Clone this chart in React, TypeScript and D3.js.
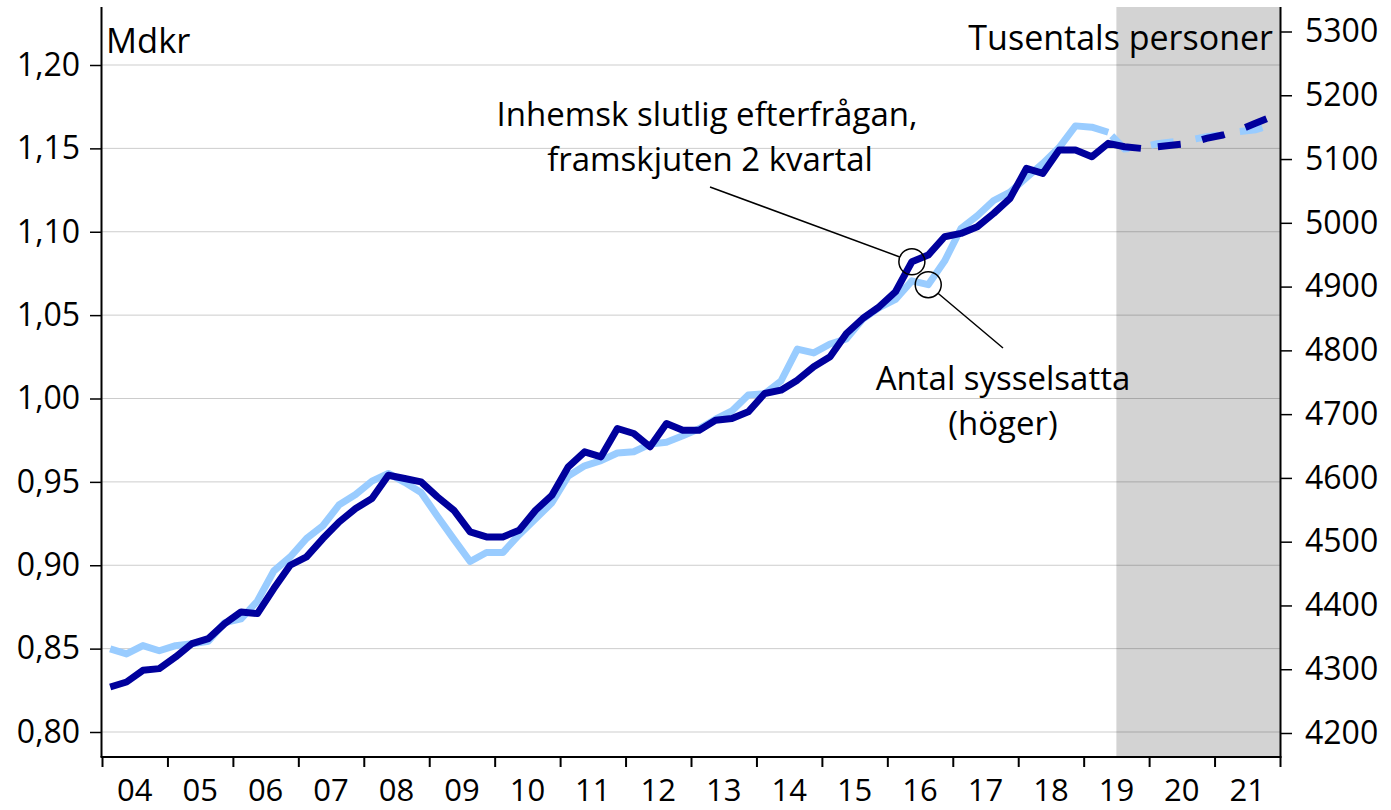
import React, { useEffect, useRef } from "react";
import * as d3 from "d3";

// years on the x axis, one label per year
const years = [
  2004, 2005, 2006, 2007, 2008, 2009, 2010, 2011, 2012, 2013, 2014, 2015,
  2016, 2017, 2018, 2019, 2020, 2021,
];
const yearLabels = [
  "04", "05", "06", "07", "08", "09", "10", "11", "12", "13", "14", "15",
  "16", "17", "18", "19", "20", "21",
];

// Inhemsk slutlig efterfrågan, framskjuten 2 kvartal (Mdkr, vänster), 2004Q1-2021Q4
const demand = [
  0.827, 0.83, 0.837, 0.838, 0.845, 0.853, 0.856, 0.865,
  0.872, 0.871, 0.886, 0.9, 0.905, 0.916, 0.926, 0.934,
  0.94, 0.954, 0.952, 0.95, 0.941, 0.933, 0.92, 0.917,
  0.917, 0.921, 0.933, 0.942, 0.959, 0.968, 0.965, 0.982,
  0.979, 0.971, 0.985, 0.981, 0.981, 0.987, 0.988, 0.992,
  1.003, 1.005, 1.011, 1.019, 1.025, 1.039, 1.048, 1.055,
  1.064, 1.082, 1.086, 1.097, 1.099, 1.103, 1.111, 1.12,
  1.138, 1.135, 1.149, 1.149, 1.145, 1.153, 1.151, 1.15,
  1.151, 1.152, 1.153, 1.156, 1.158, 1.161, 1.165, 1.169,
];

// Antal sysselsatta (tusental, höger), 2004Q1-2021Q4
const employment = [
  4332, 4324, 4337, 4329, 4337, 4340, 4344, 4373,
  4379, 4407, 4454, 4476, 4505, 4525, 4558, 4574,
  4595, 4607, 4593, 4577, 4540, 4504, 4469, 4483,
  4483, 4511, 4536, 4561, 4603, 4619, 4627, 4639,
  4641, 4653, 4656, 4666, 4677, 4692, 4705, 4730,
  4732, 4752, 4802, 4796, 4810, 4818, 4849, 4867,
  4880, 4909, 4903, 4940, 4991, 5011, 5035, 5048,
  5071, 5093, 5118, 5152, 5150, 5142, 5116, 5118,
  5124, 5127, 5130, 5135, 5138, 5143, 5146, 5154,
];

// last quarter with outcome (index), after that prognosis (dashed)
const demandLastActual = 63;
const employmentLastActual = 61;
const forecastStart = 2019.5;

const leftTicks = [0.8, 0.85, 0.9, 0.95, 1.0, 1.05, 1.1, 1.15, 1.2];
const rightTicks = [4200, 4300, 4400, 4500, 4600, 4700, 4800, 4900, 5000, 5100, 5200, 5300];

const FONT = "'Open Sans', 'Noto Sans', sans-serif";
const DARK = "#00009c";
const LIGHT = "#99ccff";

const App = () => {
  const svgRef = useRef<SVGSVGElement | null>(null);

  useEffect(() => {
    const width = 1391;
    const height = 810;
    const left = 102;
    const right = 1280;
    const top = 7;
    const bottom = 757;

    const svg = d3.select(svgRef.current);
    svg.selectAll("*").remove();
    svg.attr("width", width).attr("height", height);

    const x = d3.scaleLinear().domain([years[0], years[years.length - 1] + 1]).range([left, right]);
    const yL = d3.scaleLinear().domain([0.8, 1.2]).range([732, 65]);
    const yR = d3.scaleLinear().domain([4200, 5300]).range([733, 31.5]);

    // quarter midpoints
    const quarters = years.flatMap((yr) => [1, 2, 3, 4].map((q) => yr + (q - 0.5) / 4));

    // forecast shading
    svg
      .append("rect")
      .attr("x", x(forecastStart))
      .attr("y", top)
      .attr("width", x(years[years.length - 1] + 1) - x(forecastStart))
      .attr("height", bottom - top)
      .attr("fill", "#d3d3d3");

    // gridlines from left axis
    svg
      .append("g")
      .selectAll("line")
      .data(leftTicks)
      .join("line")
      .attr("x1", left)
      .attr("x2", right)
      .attr("y1", (d) => yL(d))
      .attr("y2", (d) => yL(d))
      .attr("stroke", "#000")
      .attr("stroke-opacity", 0.2)
      .attr("stroke-width", 1);

    // lines
    const lineL = d3
      .line<number>()
      .x((_, i) => x(quarters[i]))
      .y((d) => yL(d));
    const lineR = d3
      .line<number>()
      .x((_, i) => x(quarters[i]))
      .y((d) => yR(d));

    const drawSeries = (
      vals: number[],
      lastActual: number,
      gen: d3.Line<number>,
      color: string,
      offset: number
    ) => {
      const solid = vals.map((v, i) => (i <= lastActual ? v : NaN));
      const dashed = vals.map((v, i) => (i >= lastActual ? v : NaN));
      gen.defined((d) => !isNaN(d));
      svg
        .append("path")
        .attr("d", gen(solid))
        .attr("fill", "none")
        .attr("stroke", color)
        .attr("stroke-width", 7)
        .attr("stroke-linejoin", "round");
      svg
        .append("path")
        .attr("d", gen(dashed))
        .attr("fill", "none")
        .attr("stroke", color)
        .attr("stroke-width", 7)
        .attr("stroke-dasharray", "23 22")
        .attr("stroke-dashoffset", offset);
    };

    drawSeries(employment, employmentLastActual, lineR, LIGHT, 40);
    drawSeries(demand, demandLastActual, lineL, DARK, 28);

    // axis lines
    svg
      .append("line")
      .attr("x1", left - 0.5)
      .attr("x2", left - 0.5)
      .attr("y1", top)
      .attr("y2", bottom)
      .attr("stroke", "#000")
      .attr("stroke-width", 2);
    svg
      .append("line")
      .attr("x1", right + 0.5)
      .attr("x2", right + 0.5)
      .attr("y1", top)
      .attr("y2", bottom)
      .attr("stroke", "#000")
      .attr("stroke-width", 2);
    svg
      .append("line")
      .attr("x1", left - 1.5)
      .attr("x2", right + 1.5)
      .attr("y1", bottom)
      .attr("y2", bottom)
      .attr("stroke", "#000")
      .attr("stroke-width", 2);

    // left axis
    const gL = svg
      .append("g")
      .attr("transform", `translate(${left - 1},0)`)
      .call(
        d3
          .axisLeft(yL)
          .tickValues(leftTicks)
          .tickSize(11)
          .tickPadding(10)
          .tickFormat((d) => (d as number).toFixed(2).replace(".", ","))
      );
    gL.select(".domain").remove();
    gL.selectAll("line").attr("stroke", "#000").attr("stroke-width", 1.5);
    gL.selectAll("text").attr("font-family", FONT).attr("font-size", 32).attr("fill", "#000");

    // right axis
    const gR = svg
      .append("g")
      .attr("transform", `translate(${right + 1},0)`)
      .call(d3.axisRight(yR).tickValues(rightTicks).tickSize(11).tickPadding(13).tickFormat(d3.format("d")));
    gR.select(".domain").remove();
    gR.selectAll("line").attr("stroke", "#000").attr("stroke-width", 1.5);
    gR.selectAll("text").attr("font-family", FONT).attr("font-size", 32).attr("fill", "#000");

    // bottom axis: ticks at year boundaries, labels mid-year
    const gB = svg
      .append("g")
      .attr("transform", `translate(0,${bottom})`)
      .call(
        d3
          .axisBottom(x)
          .tickValues([...years, years[years.length - 1] + 1])
          .tickSize(10)
          .tickFormat(() => "")
      );
    gB.select(".domain").remove();
    gB.selectAll("line").attr("stroke", "#000").attr("stroke-width", 2);

    svg
      .append("g")
      .selectAll("text")
      .data(years)
      .join("text")
      .attr("x", (d) => x(d + 0.5))
      .attr("y", 801)
      .attr("text-anchor", "middle")
      .attr("font-family", FONT)
      .attr("font-size", 31)
      .attr("fill", "#000")
      .text((_, i) => yearLabels[i]);

    // unit labels
    svg
      .append("text")
      .attr("x", left + 4)
      .attr("y", 53)
      .attr("font-family", FONT)
      .attr("font-size", 34.5)
      .text("Mdkr");
    svg
      .append("text")
      .attr("x", right - 7)
      .attr("y", 50)
      .attr("text-anchor", "end")
      .attr("font-family", FONT)
      .attr("font-size", 34)
      .text("Tusentals personer");

    // annotations
    const ann = svg.append("g").attr("font-family", FONT).attr("font-size", 33).attr("text-anchor", "middle");
    ann.append("text").attr("x", 707).attr("y", 126).text("Inhemsk slutlig efterfrågan,");
    ann.append("text").attr("x", 710).attr("y", 171).text("framskjuten 2 kvartal");
    ann.append("text").attr("x", 1003).attr("y", 390).text("Antal sysselsatta");
    ann.append("text").attr("x", 1003).attr("y", 435).text("(höger)");

    const c1 = [x(quarters[49]), yL(demand[49])];
    const c2 = [x(quarters[50]), yR(employment[50])];
    const r = 13;

    svg
      .append("line")
      .attr("x1", 710)
      .attr("y1", 187)
      .attr("x2", c1[0] - r * 0.93)
      .attr("y2", c1[1] - r * 0.37)
      .attr("stroke", "#000")
      .attr("stroke-width", 1.5);
    svg
      .append("line")
      .attr("x1", c2[0] + r * 0.75)
      .attr("y1", c2[1] + r * 0.66)
      .attr("x2", 1003)
      .attr("y2", 348)
      .attr("stroke", "#000")
      .attr("stroke-width", 1.5);
    svg
      .append("g")
      .selectAll("circle")
      .data([c1, c2])
      .join("circle")
      .attr("cx", (d) => d[0])
      .attr("cy", (d) => d[1])
      .attr("r", r)
      .attr("fill", "none")
      .attr("stroke", "#000")
      .attr("stroke-width", 1.5);
  }, []);

  return <svg ref={svgRef} style={{ position: "absolute", left: 0, top: 0 }}></svg>;
};

export default App;
